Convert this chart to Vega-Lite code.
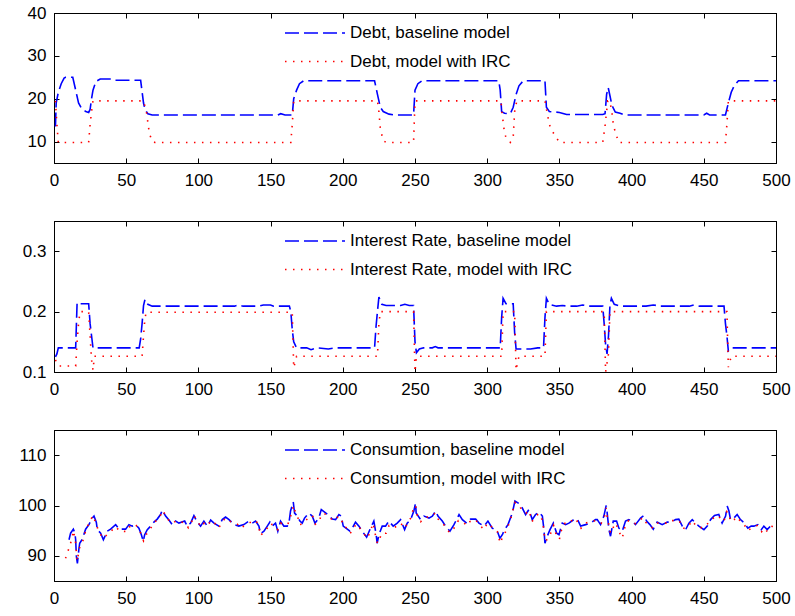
{
"$schema":"https://vega.github.io/schema/vega-lite/v6.json",
"padding":{"left":13,"top":3,"right":5,"bottom":5},
"background":"white",
"spacing":28,
"config":{
 "view":{"stroke":"black","strokeWidth":1},
 "axis":{"grid":false,"tickSize":-5,"domainColor":"black","tickColor":"black","labelColor":"black","labelFont":"Liberation Sans","labelFontSize":17,"title":null,"domainWidth":1,"tickWidth":1,"labelFlush":false},
 "axisX":{"labelPadding":14,"minExtent":28,"maxExtent":28},
 "axisY":{"labelPadding":13,"minExtent":40,"maxExtent":40},
 "legend":{"orient":"none","legendX":250,"legendY":9,"symbolType":"M-3,0H3","symbolSize":400,"symbolStrokeWidth":1.5,"labelFont":"Liberation Sans","labelFontSize":17,"labelColor":"black","labelLimit":500,"rowPadding":9.5,"title":null,"labelOffset":24}
},
"datasets":{
"debt":[
{"t":1,"v":13.5,"s":"baseline model"},{"t":1.5,"v":19,"s":"baseline model"},{"t":3,"v":21.5,"s":"baseline model"},{"t":5,"v":23.5,"s":"baseline model"},{"t":7,"v":24.8,"s":"baseline model"},{"t":8,"v":25,"s":"baseline model"},{"t":13,"v":25,"s":"baseline model"},{"t":15,"v":22,"s":"baseline model"},{"t":17,"v":19,"s":"baseline model"},{"t":19,"v":17.8,"s":"baseline model"},{"t":22,"v":17,"s":"baseline model"},{"t":24,"v":16.8,"s":"baseline model"},{"t":25,"v":17.5,"s":"baseline model"},{"t":26,"v":20,"s":"baseline model"},{"t":27,"v":22,"s":"baseline model"},{"t":29,"v":24,"s":"baseline model"},{"t":32,"v":24.6,"s":"baseline model"},{"t":40,"v":24.6,"s":"baseline model"},{"t":42,"v":24.3,"s":"baseline model"},{"t":60,"v":24.3,"s":"baseline model"},{"t":62,"v":19,"s":"baseline model"},{"t":63,"v":17.5,"s":"baseline model"},{"t":65,"v":16.5,"s":"baseline model"},{"t":68,"v":16.2,"s":"baseline model"},{"t":155,"v":16.2,"s":"baseline model"},{"t":157,"v":16.5,"s":"baseline model"},{"t":160,"v":16.2,"s":"baseline model"},{"t":165,"v":16.2,"s":"baseline model"},{"t":166,"v":20,"s":"baseline model"},{"t":168,"v":22,"s":"baseline model"},{"t":170,"v":23.5,"s":"baseline model"},{"t":173,"v":24.2,"s":"baseline model"},{"t":222,"v":24.2,"s":"baseline model"},{"t":224,"v":21,"s":"baseline model"},{"t":226,"v":18,"s":"baseline model"},{"t":228,"v":17,"s":"baseline model"},{"t":232,"v":16.4,"s":"baseline model"},{"t":236,"v":16.2,"s":"baseline model"},{"t":249,"v":16.2,"s":"baseline model"},{"t":250,"v":22,"s":"baseline model"},{"t":252,"v":23.5,"s":"baseline model"},{"t":255,"v":24.2,"s":"baseline model"},{"t":308,"v":24.2,"s":"baseline model"},{"t":309,"v":22,"s":"baseline model"},{"t":310,"v":17,"s":"baseline model"},{"t":312,"v":16.6,"s":"baseline model"},{"t":316,"v":16.5,"s":"baseline model"},{"t":318,"v":18,"s":"baseline model"},{"t":320,"v":21,"s":"baseline model"},{"t":322,"v":23,"s":"baseline model"},{"t":325,"v":24.2,"s":"baseline model"},{"t":340,"v":24.2,"s":"baseline model"},{"t":341,"v":18,"s":"baseline model"},{"t":343,"v":17,"s":"baseline model"},{"t":350,"v":16.8,"s":"baseline model"},{"t":355,"v":16.3,"s":"baseline model"},{"t":380,"v":16.3,"s":"baseline model"},{"t":381.6,"v":16.5,"s":"baseline model"},{"t":382.7,"v":21,"s":"baseline model"},{"t":383.8,"v":22.6,"s":"baseline model"},{"t":385,"v":20.7,"s":"baseline model"},{"t":386.4,"v":18.4,"s":"baseline model"},{"t":388.7,"v":16.9,"s":"baseline model"},{"t":392,"v":16.6,"s":"baseline model"},{"t":395,"v":16.2,"s":"baseline model"},{"t":450,"v":16.2,"s":"baseline model"},{"t":452,"v":16.6,"s":"baseline model"},{"t":454,"v":16.2,"s":"baseline model"},{"t":465,"v":16.2,"s":"baseline model"},{"t":467,"v":19,"s":"baseline model"},{"t":469,"v":21.5,"s":"baseline model"},{"t":471,"v":23,"s":"baseline model"},{"t":474,"v":24.2,"s":"baseline model"},{"t":500,"v":24.2,"s":"baseline model"},
{"t":1,"v":19.5,"s":"model with IRC"},{"t":2,"v":14,"s":"model with IRC"},{"t":3,"v":9.8,"s":"model with IRC"},{"t":24,"v":9.8,"s":"model with IRC"},{"t":25,"v":14,"s":"model with IRC"},{"t":26,"v":17,"s":"model with IRC"},{"t":27,"v":19.5,"s":"model with IRC"},{"t":62,"v":19.5,"s":"model with IRC"},{"t":64,"v":17,"s":"model with IRC"},{"t":66,"v":12,"s":"model with IRC"},{"t":68,"v":10,"s":"model with IRC"},{"t":70,"v":9.8,"s":"model with IRC"},{"t":164,"v":9.8,"s":"model with IRC"},{"t":165,"v":14,"s":"model with IRC"},{"t":166,"v":19.5,"s":"model with IRC"},{"t":224,"v":19.5,"s":"model with IRC"},{"t":225,"v":17,"s":"model with IRC"},{"t":226,"v":13,"s":"model with IRC"},{"t":228,"v":10.2,"s":"model with IRC"},{"t":230,"v":9.8,"s":"model with IRC"},{"t":249,"v":9.8,"s":"model with IRC"},{"t":250,"v":19.5,"s":"model with IRC"},{"t":309.6,"v":19.5,"s":"model with IRC"},{"t":310,"v":17.4,"s":"model with IRC"},{"t":312,"v":12,"s":"model with IRC"},{"t":313,"v":11,"s":"model with IRC"},{"t":316,"v":9.8,"s":"model with IRC"},{"t":318,"v":11,"s":"model with IRC"},{"t":319,"v":17,"s":"model with IRC"},{"t":320.5,"v":19.5,"s":"model with IRC"},{"t":340,"v":19.5,"s":"model with IRC"},{"t":341.6,"v":16.6,"s":"model with IRC"},{"t":343,"v":14,"s":"model with IRC"},{"t":345.5,"v":12.2,"s":"model with IRC"},{"t":350,"v":9.8,"s":"model with IRC"},{"t":380,"v":9.8,"s":"model with IRC"},{"t":381.6,"v":13.6,"s":"model with IRC"},{"t":383.5,"v":19.5,"s":"model with IRC"},{"t":385,"v":19.5,"s":"model with IRC"},{"t":386.4,"v":16.6,"s":"model with IRC"},{"t":387.5,"v":13.6,"s":"model with IRC"},{"t":391,"v":9.8,"s":"model with IRC"},{"t":465,"v":9.8,"s":"model with IRC"},{"t":466,"v":14,"s":"model with IRC"},{"t":467,"v":19.5,"s":"model with IRC"},{"t":500,"v":19.5,"s":"model with IRC"}
],
"rate":[
{"t":1,"v":0.125,"s":"baseline model"},{"t":2,"v":0.13,"s":"baseline model"},{"t":3,"v":0.14,"s":"baseline model"},{"t":15,"v":0.14,"s":"baseline model"},{"t":16,"v":0.215,"s":"baseline model"},{"t":18,"v":0.213,"s":"baseline model"},{"t":24,"v":0.213,"s":"baseline model"},{"t":25,"v":0.18,"s":"baseline model"},{"t":26,"v":0.16,"s":"baseline model"},{"t":27,"v":0.14,"s":"baseline model"},{"t":59,"v":0.14,"s":"baseline model"},{"t":60,"v":0.155,"s":"baseline model"},{"t":61,"v":0.18,"s":"baseline model"},{"t":62,"v":0.21,"s":"baseline model"},{"t":63,"v":0.22,"s":"baseline model"},{"t":65,"v":0.212,"s":"baseline model"},{"t":68,"v":0.209,"s":"baseline model"},{"t":125,"v":0.209,"s":"baseline model"},{"t":128,"v":0.211,"s":"baseline model"},{"t":131,"v":0.209,"s":"baseline model"},{"t":142,"v":0.209,"s":"baseline model"},{"t":145,"v":0.211,"s":"baseline model"},{"t":150,"v":0.211,"s":"baseline model"},{"t":152,"v":0.209,"s":"baseline model"},{"t":163,"v":0.209,"s":"baseline model"},{"t":164,"v":0.2,"s":"baseline model"},{"t":165,"v":0.17,"s":"baseline model"},{"t":166,"v":0.15,"s":"baseline model"},{"t":168,"v":0.14,"s":"baseline model"},{"t":175,"v":0.14,"s":"baseline model"},{"t":178,"v":0.137,"s":"baseline model"},{"t":182,"v":0.14,"s":"baseline model"},{"t":190,"v":0.138,"s":"baseline model"},{"t":195,"v":0.14,"s":"baseline model"},{"t":222,"v":0.14,"s":"baseline model"},{"t":223,"v":0.175,"s":"baseline model"},{"t":224,"v":0.2,"s":"baseline model"},{"t":225,"v":0.224,"s":"baseline model"},{"t":227,"v":0.212,"s":"baseline model"},{"t":230,"v":0.21,"s":"baseline model"},{"t":240,"v":0.21,"s":"baseline model"},{"t":243,"v":0.212,"s":"baseline model"},{"t":246,"v":0.21,"s":"baseline model"},{"t":249,"v":0.21,"s":"baseline model"},{"t":250,"v":0.15,"s":"baseline model"},{"t":251,"v":0.132,"s":"baseline model"},{"t":253,"v":0.138,"s":"baseline model"},{"t":256,"v":0.14,"s":"baseline model"},{"t":262,"v":0.14,"s":"baseline model"},{"t":264,"v":0.142,"s":"baseline model"},{"t":266,"v":0.14,"s":"baseline model"},{"t":309,"v":0.14,"s":"baseline model"},{"t":310,"v":0.19,"s":"baseline model"},{"t":311,"v":0.222,"s":"baseline model"},{"t":313,"v":0.213,"s":"baseline model"},{"t":318,"v":0.213,"s":"baseline model"},{"t":319,"v":0.165,"s":"baseline model"},{"t":320,"v":0.138,"s":"baseline model"},{"t":330,"v":0.138,"s":"baseline model"},{"t":335,"v":0.14,"s":"baseline model"},{"t":339,"v":0.14,"s":"baseline model"},{"t":340,"v":0.19,"s":"baseline model"},{"t":341,"v":0.222,"s":"baseline model"},{"t":343,"v":0.212,"s":"baseline model"},{"t":348,"v":0.209,"s":"baseline model"},{"t":352,"v":0.21,"s":"baseline model"},{"t":356,"v":0.209,"s":"baseline model"},{"t":362,"v":0.209,"s":"baseline model"},{"t":366,"v":0.211,"s":"baseline model"},{"t":370,"v":0.209,"s":"baseline model"},{"t":380,"v":0.209,"s":"baseline model"},{"t":381,"v":0.18,"s":"baseline model"},{"t":382,"v":0.145,"s":"baseline model"},{"t":383,"v":0.13,"s":"baseline model"},{"t":384,"v":0.16,"s":"baseline model"},{"t":385,"v":0.21,"s":"baseline model"},{"t":386,"v":0.222,"s":"baseline model"},{"t":388,"v":0.212,"s":"baseline model"},{"t":392,"v":0.209,"s":"baseline model"},{"t":410,"v":0.209,"s":"baseline model"},{"t":415,"v":0.211,"s":"baseline model"},{"t":420,"v":0.209,"s":"baseline model"},{"t":440,"v":0.209,"s":"baseline model"},{"t":443,"v":0.211,"s":"baseline model"},{"t":447,"v":0.209,"s":"baseline model"},{"t":464,"v":0.209,"s":"baseline model"},{"t":465,"v":0.18,"s":"baseline model"},{"t":466,"v":0.16,"s":"baseline model"},{"t":467,"v":0.135,"s":"baseline model"},{"t":469,"v":0.14,"s":"baseline model"},{"t":500,"v":0.14,"s":"baseline model"},
{"t":1,"v":0.12,"s":"model with IRC"},{"t":3,"v":0.11,"s":"model with IRC"},{"t":15,"v":0.11,"s":"model with IRC"},{"t":16,"v":0.15,"s":"model with IRC"},{"t":17,"v":0.18,"s":"model with IRC"},{"t":18,"v":0.2,"s":"model with IRC"},{"t":24,"v":0.2,"s":"model with IRC"},{"t":25,"v":0.16,"s":"model with IRC"},{"t":26,"v":0.12,"s":"model with IRC"},{"t":27,"v":0.103,"s":"model with IRC"},{"t":28,"v":0.126,"s":"model with IRC"},{"t":61,"v":0.126,"s":"model with IRC"},{"t":62,"v":0.16,"s":"model with IRC"},{"t":63,"v":0.19,"s":"model with IRC"},{"t":64,"v":0.199,"s":"model with IRC"},{"t":165,"v":0.199,"s":"model with IRC"},{"t":166,"v":0.107,"s":"model with IRC"},{"t":168,"v":0.126,"s":"model with IRC"},{"t":224,"v":0.126,"s":"model with IRC"},{"t":225,"v":0.18,"s":"model with IRC"},{"t":226,"v":0.2,"s":"model with IRC"},{"t":249,"v":0.2,"s":"model with IRC"},{"t":250,"v":0.1,"s":"model with IRC"},{"t":251,"v":0.126,"s":"model with IRC"},{"t":310,"v":0.126,"s":"model with IRC"},{"t":311,"v":0.2,"s":"model with IRC"},{"t":319,"v":0.2,"s":"model with IRC"},{"t":320,"v":0.103,"s":"model with IRC"},{"t":322,"v":0.126,"s":"model with IRC"},{"t":340,"v":0.126,"s":"model with IRC"},{"t":341,"v":0.2,"s":"model with IRC"},{"t":381,"v":0.2,"s":"model with IRC"},{"t":382,"v":0.1,"s":"model with IRC"},{"t":384,"v":0.13,"s":"model with IRC"},{"t":385,"v":0.2,"s":"model with IRC"},{"t":466,"v":0.2,"s":"model with IRC"},{"t":467,"v":0.108,"s":"model with IRC"},{"t":469,"v":0.126,"s":"model with IRC"},{"t":500,"v":0.126,"s":"model with IRC"}
],
"cons":[
{"t":10.4,"v":93.2,"s":"baseline model"},{"t":11.5,"v":94.5,"s":"baseline model"},{"t":13.4,"v":95.3,"s":"baseline model"},{"t":14.5,"v":94.5,"s":"baseline model"},{"t":15,"v":93.2,"s":"baseline model"},{"t":15.5,"v":89.9,"s":"baseline model"},{"t":16.2,"v":88.5,"s":"baseline model"},{"t":17.3,"v":91.5,"s":"baseline model"},{"t":17.8,"v":92.5,"s":"baseline model"},{"t":19.6,"v":93.3,"s":"baseline model"},{"t":21.9,"v":95.3,"s":"baseline model"},{"t":24.2,"v":96.2,"s":"baseline model"},{"t":26.5,"v":97.5,"s":"baseline model"},{"t":27.7,"v":97.9,"s":"baseline model"},{"t":29.3,"v":96.7,"s":"baseline model"},{"t":30,"v":95.2,"s":"baseline model"},{"t":32.3,"v":94.5,"s":"baseline model"},{"t":34.2,"v":93.2,"s":"baseline model"},{"t":35.8,"v":94.2,"s":"baseline model"},{"t":36.9,"v":94.9,"s":"baseline model"},{"t":39.2,"v":95.3,"s":"baseline model"},{"t":42.7,"v":96.2,"s":"baseline model"},{"t":45,"v":95.3,"s":"baseline model"},{"t":49.6,"v":95.3,"s":"baseline model"},{"t":51.9,"v":96.2,"s":"baseline model"},{"t":54.2,"v":95.9,"s":"baseline model"},{"t":56.5,"v":96.2,"s":"baseline model"},{"t":58.8,"v":95.5,"s":"baseline model"},{"t":60.5,"v":94.2,"s":"baseline model"},{"t":61.8,"v":92.9,"s":"baseline model"},{"t":62.8,"v":94.2,"s":"baseline model"},{"t":64.6,"v":95.2,"s":"baseline model"},{"t":66.9,"v":95.9,"s":"baseline model"},{"t":69.2,"v":96.7,"s":"baseline model"},{"t":71.5,"v":97.3,"s":"baseline model"},{"t":73.8,"v":98.2,"s":"baseline model"},{"t":75,"v":99.1,"s":"baseline model"},{"t":77.3,"v":97.9,"s":"baseline model"},{"t":79.6,"v":97.1,"s":"baseline model"},{"t":81.9,"v":96.2,"s":"baseline model"},{"t":84.2,"v":96.9,"s":"baseline model"},{"t":86.5,"v":96.5,"s":"baseline model"},{"t":90.5,"v":96.9,"s":"baseline model"},{"t":92.3,"v":95.9,"s":"baseline model"},{"t":94.6,"v":96.5,"s":"baseline model"},{"t":96.9,"v":98.0,"s":"baseline model"},{"t":99.2,"v":96.7,"s":"baseline model"},{"t":101.5,"v":95.9,"s":"baseline model"},{"t":103.8,"v":96.9,"s":"baseline model"},{"t":106.2,"v":95.9,"s":"baseline model"},{"t":108.5,"v":97.1,"s":"baseline model"},{"t":110.8,"v":96.5,"s":"baseline model"},{"t":114.2,"v":95.9,"s":"baseline model"},{"t":116.5,"v":97.2,"s":"baseline model"},{"t":118.8,"v":97.7,"s":"baseline model"},{"t":121.2,"v":97.2,"s":"baseline model"},{"t":124.6,"v":96.2,"s":"baseline model"},{"t":128,"v":95.9,"s":"baseline model"},{"t":131.5,"v":96.2,"s":"baseline model"},{"t":135,"v":96.9,"s":"baseline model"},{"t":137.3,"v":96.5,"s":"baseline model"},{"t":139.6,"v":96.9,"s":"baseline model"},{"t":141.9,"v":95.9,"s":"baseline model"},{"t":143,"v":94.4,"s":"baseline model"},{"t":145.4,"v":94.9,"s":"baseline model"},{"t":147.7,"v":95.9,"s":"baseline model"},{"t":149.5,"v":96.7,"s":"baseline model"},{"t":151.1,"v":95.9,"s":"baseline model"},{"t":153.4,"v":96.5,"s":"baseline model"},{"t":155,"v":94.9,"s":"baseline model"},{"t":156.9,"v":96.9,"s":"baseline model"},{"t":159.2,"v":95.9,"s":"baseline model"},{"t":161.5,"v":95.9,"s":"baseline model"},{"t":162.7,"v":96.5,"s":"baseline model"},{"t":163.8,"v":98.9,"s":"baseline model"},{"t":165.7,"v":100.7,"s":"baseline model"},{"t":166.6,"v":98.5,"s":"baseline model"},{"t":168.5,"v":97.9,"s":"baseline model"},{"t":170.3,"v":96.9,"s":"baseline model"},{"t":171.9,"v":96.5,"s":"baseline model"},{"t":173.5,"v":97.5,"s":"baseline model"},{"t":176.5,"v":98.5,"s":"baseline model"},{"t":178.8,"v":97.9,"s":"baseline model"},{"t":180.7,"v":96.5,"s":"baseline model"},{"t":183.4,"v":97.5,"s":"baseline model"},{"t":185.1,"v":99.2,"s":"baseline model"},{"t":187.4,"v":98.7,"s":"baseline model"},{"t":189.7,"v":98.2,"s":"baseline model"},{"t":192.7,"v":97.3,"s":"baseline model"},{"t":195,"v":97.2,"s":"baseline model"},{"t":197.3,"v":98.2,"s":"baseline model"},{"t":198.9,"v":97.9,"s":"baseline model"},{"t":200.3,"v":95.9,"s":"baseline model"},{"t":203.1,"v":95.3,"s":"baseline model"},{"t":204.9,"v":94.9,"s":"baseline model"},{"t":206.5,"v":95.5,"s":"baseline model"},{"t":208.8,"v":96.7,"s":"baseline model"},{"t":211.2,"v":95.9,"s":"baseline model"},{"t":213.4,"v":94.9,"s":"baseline model"},{"t":216.5,"v":93.7,"s":"baseline model"},{"t":219.2,"v":95.5,"s":"baseline model"},{"t":221.5,"v":96.9,"s":"baseline model"},{"t":223.1,"v":94.2,"s":"baseline model"},{"t":223.8,"v":92.5,"s":"baseline model"},{"t":225,"v":94.2,"s":"baseline model"},{"t":227.3,"v":95.9,"s":"baseline model"},{"t":229.6,"v":95.9,"s":"baseline model"},{"t":231.9,"v":96.9,"s":"baseline model"},{"t":234.9,"v":95.9,"s":"baseline model"},{"t":237.7,"v":96.5,"s":"baseline model"},{"t":240,"v":97.2,"s":"baseline model"},{"t":242.8,"v":95.2,"s":"baseline model"},{"t":244.6,"v":96.5,"s":"baseline model"},{"t":246.9,"v":97.1,"s":"baseline model"},{"t":249.2,"v":98.9,"s":"baseline model"},{"t":250.4,"v":100.5,"s":"baseline model"},{"t":250.8,"v":98.5,"s":"baseline model"},{"t":253.9,"v":97.2,"s":"baseline model"},{"t":256.2,"v":97.9,"s":"baseline model"},{"t":259.7,"v":97.5,"s":"baseline model"},{"t":262,"v":97.9,"s":"baseline model"},{"t":264.3,"v":98.9,"s":"baseline model"},{"t":265.9,"v":97.9,"s":"baseline model"},{"t":268.9,"v":96.9,"s":"baseline model"},{"t":271.2,"v":95.9,"s":"baseline model"},{"t":274.2,"v":94.9,"s":"baseline model"},{"t":277,"v":96.2,"s":"baseline model"},{"t":280.5,"v":98.2,"s":"baseline model"},{"t":282.8,"v":97.2,"s":"baseline model"},{"t":285.8,"v":96.5,"s":"baseline model"},{"t":288.5,"v":97.3,"s":"baseline model"},{"t":292,"v":97.3,"s":"baseline model"},{"t":294.3,"v":96.5,"s":"baseline model"},{"t":297.8,"v":95.9,"s":"baseline model"},{"t":300.5,"v":96.9,"s":"baseline model"},{"t":303.5,"v":95.5,"s":"baseline model"},{"t":307,"v":94.9,"s":"baseline model"},{"t":308.8,"v":93.5,"s":"baseline model"},{"t":310.5,"v":94.2,"s":"baseline model"},{"t":312,"v":95.2,"s":"baseline model"},{"t":314.4,"v":96.2,"s":"baseline model"},{"t":317.4,"v":98.5,"s":"baseline model"},{"t":319.2,"v":100.9,"s":"baseline model"},{"t":322,"v":100.4,"s":"baseline model"},{"t":324.3,"v":99.5,"s":"baseline model"},{"t":326.6,"v":98.2,"s":"baseline model"},{"t":328.9,"v":99.2,"s":"baseline model"},{"t":331.2,"v":97.2,"s":"baseline model"},{"t":333.5,"v":98.2,"s":"baseline model"},{"t":335.8,"v":98.7,"s":"baseline model"},{"t":338.2,"v":97.9,"s":"baseline model"},{"t":339.3,"v":95.2,"s":"baseline model"},{"t":340,"v":92.5,"s":"baseline model"},{"t":341.6,"v":93.9,"s":"baseline model"},{"t":343.5,"v":95.2,"s":"baseline model"},{"t":345.8,"v":96.5,"s":"baseline model"},{"t":348.1,"v":94.5,"s":"baseline model"},{"t":349.7,"v":94.2,"s":"baseline model"},{"t":352,"v":96.5,"s":"baseline model"},{"t":354.3,"v":96.2,"s":"baseline model"},{"t":356.6,"v":96.5,"s":"baseline model"},{"t":360,"v":97.2,"s":"baseline model"},{"t":362.4,"v":97.3,"s":"baseline model"},{"t":364.7,"v":95.9,"s":"baseline model"},{"t":368.2,"v":96.2,"s":"baseline model"},{"t":371.6,"v":96.5,"s":"baseline model"},{"t":375,"v":97.2,"s":"baseline model"},{"t":376.2,"v":97.2,"s":"baseline model"},{"t":378.5,"v":96.2,"s":"baseline model"},{"t":380.8,"v":97.9,"s":"baseline model"},{"t":382.4,"v":100,"s":"baseline model"},{"t":383.1,"v":98.5,"s":"baseline model"},{"t":384.3,"v":95.2,"s":"baseline model"},{"t":385.4,"v":93.9,"s":"baseline model"},{"t":387.3,"v":96.9,"s":"baseline model"},{"t":389.6,"v":96.9,"s":"baseline model"},{"t":391.2,"v":95.5,"s":"baseline model"},{"t":393.5,"v":94.9,"s":"baseline model"},{"t":395.8,"v":96.9,"s":"baseline model"},{"t":398.1,"v":97.2,"s":"baseline model"},{"t":400.4,"v":96.9,"s":"baseline model"},{"t":402.7,"v":96.2,"s":"baseline model"},{"t":406.2,"v":97.5,"s":"baseline model"},{"t":408.5,"v":98,"s":"baseline model"},{"t":410.4,"v":96.9,"s":"baseline model"},{"t":412.7,"v":96.2,"s":"baseline model"},{"t":415,"v":95.3,"s":"baseline model"},{"t":417.7,"v":96.7,"s":"baseline model"},{"t":421.2,"v":96.2,"s":"baseline model"},{"t":424.7,"v":96.7,"s":"baseline model"},{"t":427.4,"v":96.7,"s":"baseline model"},{"t":430.4,"v":97.2,"s":"baseline model"},{"t":432.7,"v":97.3,"s":"baseline model"},{"t":435.1,"v":95.9,"s":"baseline model"},{"t":437.4,"v":95.2,"s":"baseline model"},{"t":439.7,"v":96.5,"s":"baseline model"},{"t":442,"v":97.2,"s":"baseline model"},{"t":444.3,"v":96.5,"s":"baseline model"},{"t":446.6,"v":95.9,"s":"baseline model"},{"t":450.1,"v":95.2,"s":"baseline model"},{"t":452.4,"v":95.9,"s":"baseline model"},{"t":454.7,"v":97.2,"s":"baseline model"},{"t":457.4,"v":98,"s":"baseline model"},{"t":460.4,"v":98.2,"s":"baseline model"},{"t":462.7,"v":96.5,"s":"baseline model"},{"t":465.1,"v":97.9,"s":"baseline model"},{"t":466.2,"v":99.9,"s":"baseline model"},{"t":467.4,"v":98.9,"s":"baseline model"},{"t":468.5,"v":97.2,"s":"baseline model"},{"t":470.8,"v":97.5,"s":"baseline model"},{"t":473.1,"v":98.2,"s":"baseline model"},{"t":475.4,"v":97.2,"s":"baseline model"},{"t":478.2,"v":96.5,"s":"baseline model"},{"t":480.5,"v":95.5,"s":"baseline model"},{"t":482.8,"v":95.9,"s":"baseline model"},{"t":484.7,"v":95.9,"s":"baseline model"},{"t":487.4,"v":96.2,"s":"baseline model"},{"t":489.8,"v":95.2,"s":"baseline model"},{"t":491.6,"v":95.9,"s":"baseline model"},{"t":493.9,"v":95.2,"s":"baseline model"},{"t":496.2,"v":95.9,"s":"baseline model"},{"t":498.5,"v":96.4,"s":"baseline model"},
{"t":8,"v":89.5,"s":"model with IRC"},{"t":10,"v":91.2,"s":"model with IRC"},{"t":12,"v":93,"s":"model with IRC"},{"t":13.5,"v":95,"s":"model with IRC"},{"t":15,"v":92.5,"s":"model with IRC"},{"t":16,"v":89,"s":"model with IRC"},{"t":17,"v":90.5,"s":"model with IRC"},{"t":18,"v":92,"s":"model with IRC"},{"t":20,"v":93,"s":"model with IRC"},{"t":22,"v":95,"s":"model with IRC"},{"t":24,"v":96.4,"s":"model with IRC"},{"t":27,"v":98,"s":"model with IRC"},{"t":29,"v":96.5,"s":"model with IRC"},{"t":31,"v":94.8,"s":"model with IRC"},{"t":34,"v":93.5,"s":"model with IRC"},{"t":36,"v":94,"s":"model with IRC"},{"t":39,"v":94.8,"s":"model with IRC"},{"t":43,"v":95.8,"s":"model with IRC"},{"t":45,"v":95,"s":"model with IRC"},{"t":50,"v":94.8,"s":"model with IRC"},{"t":52,"v":95.8,"s":"model with IRC"},{"t":55,"v":95.5,"s":"model with IRC"},{"t":57,"v":96,"s":"model with IRC"},{"t":59,"v":95.2,"s":"model with IRC"},{"t":61,"v":93.8,"s":"model with IRC"},{"t":62,"v":93,"s":"model with IRC"},{"t":64,"v":94.3,"s":"model with IRC"},{"t":66,"v":95,"s":"model with IRC"},{"t":68,"v":96,"s":"model with IRC"},{"t":70,"v":96.8,"s":"model with IRC"},{"t":73,"v":97.5,"s":"model with IRC"},{"t":75,"v":99,"s":"model with IRC"},{"t":77,"v":98.2,"s":"model with IRC"},{"t":80,"v":96.8,"s":"model with IRC"},{"t":82,"v":96.5,"s":"model with IRC"},{"t":85,"v":97,"s":"model with IRC"},{"t":87,"v":96.8,"s":"model with IRC"},{"t":91,"v":96.5,"s":"model with IRC"},{"t":93,"v":95.6,"s":"model with IRC"},{"t":95,"v":96.5,"s":"model with IRC"},{"t":97,"v":98,"s":"model with IRC"},{"t":99,"v":97,"s":"model with IRC"},{"t":102,"v":95.7,"s":"model with IRC"},{"t":104,"v":96.5,"s":"model with IRC"},{"t":106,"v":96,"s":"model with IRC"},{"t":109,"v":97,"s":"model with IRC"},{"t":111,"v":96.6,"s":"model with IRC"},{"t":114,"v":95.5,"s":"model with IRC"},{"t":117,"v":97,"s":"model with IRC"},{"t":119,"v":97.5,"s":"model with IRC"},{"t":121,"v":97,"s":"model with IRC"},{"t":125,"v":96.4,"s":"model with IRC"},{"t":127,"v":96.3,"s":"model with IRC"},{"t":129,"v":95.5,"s":"model with IRC"},{"t":132,"v":96,"s":"model with IRC"},{"t":135,"v":96.5,"s":"model with IRC"},{"t":137,"v":96.8,"s":"model with IRC"},{"t":140,"v":97,"s":"model with IRC"},{"t":142,"v":95.5,"s":"model with IRC"},{"t":143,"v":94,"s":"model with IRC"},{"t":146,"v":95,"s":"model with IRC"},{"t":148,"v":95.6,"s":"model with IRC"},{"t":150,"v":96.5,"s":"model with IRC"},{"t":151,"v":96.2,"s":"model with IRC"},{"t":153,"v":96,"s":"model with IRC"},{"t":155,"v":95.2,"s":"model with IRC"},{"t":157,"v":96.5,"s":"model with IRC"},{"t":159,"v":96.2,"s":"model with IRC"},{"t":162,"v":96.3,"s":"model with IRC"},{"t":164,"v":98,"s":"model with IRC"},{"t":166,"v":100,"s":"model with IRC"},{"t":167,"v":98.8,"s":"model with IRC"},{"t":169,"v":97.5,"s":"model with IRC"},{"t":170,"v":96.2,"s":"model with IRC"},{"t":172,"v":96.3,"s":"model with IRC"},{"t":174,"v":97,"s":"model with IRC"},{"t":177,"v":97.6,"s":"model with IRC"},{"t":179,"v":98,"s":"model with IRC"},{"t":181,"v":96.3,"s":"model with IRC"},{"t":184,"v":97,"s":"model with IRC"},{"t":185,"v":98.2,"s":"model with IRC"},{"t":187,"v":98.4,"s":"model with IRC"},{"t":190,"v":98,"s":"model with IRC"},{"t":193,"v":97,"s":"model with IRC"},{"t":195,"v":97.4,"s":"model with IRC"},{"t":197,"v":97.8,"s":"model with IRC"},{"t":199,"v":97.5,"s":"model with IRC"},{"t":200,"v":96,"s":"model with IRC"},{"t":203,"v":95.5,"s":"model with IRC"},{"t":205,"v":94.5,"s":"model with IRC"},{"t":207,"v":95,"s":"model with IRC"},{"t":209,"v":96.3,"s":"model with IRC"},{"t":211,"v":95.8,"s":"model with IRC"},{"t":213,"v":95,"s":"model with IRC"},{"t":217,"v":93.5,"s":"model with IRC"},{"t":219,"v":94.8,"s":"model with IRC"},{"t":221,"v":96.5,"s":"model with IRC"},{"t":223,"v":93.5,"s":"model with IRC"},{"t":224,"v":92.5,"s":"model with IRC"},{"t":225,"v":93,"s":"model with IRC"},{"t":227,"v":94.5,"s":"model with IRC"},{"t":230,"v":94.5,"s":"model with IRC"},{"t":232,"v":96,"s":"model with IRC"},{"t":235,"v":95.5,"s":"model with IRC"},{"t":238,"v":96,"s":"model with IRC"},{"t":240,"v":96.5,"s":"model with IRC"},{"t":243,"v":95.5,"s":"model with IRC"},{"t":245,"v":96.6,"s":"model with IRC"},{"t":247,"v":97.5,"s":"model with IRC"},{"t":249,"v":99.5,"s":"model with IRC"},{"t":250.5,"v":100,"s":"model with IRC"},{"t":251,"v":98.4,"s":"model with IRC"},{"t":254,"v":96.8,"s":"model with IRC"},{"t":256,"v":97.5,"s":"model with IRC"},{"t":260,"v":97.8,"s":"model with IRC"},{"t":262,"v":98,"s":"model with IRC"},{"t":264,"v":98.5,"s":"model with IRC"},{"t":266,"v":97.3,"s":"model with IRC"},{"t":269,"v":96.5,"s":"model with IRC"},{"t":271,"v":95.8,"s":"model with IRC"},{"t":274,"v":94.6,"s":"model with IRC"},{"t":277,"v":95.5,"s":"model with IRC"},{"t":280,"v":97,"s":"model with IRC"},{"t":283,"v":96.8,"s":"model with IRC"},{"t":286,"v":96,"s":"model with IRC"},{"t":288,"v":96.8,"s":"model with IRC"},{"t":292,"v":97.2,"s":"model with IRC"},{"t":294,"v":96.3,"s":"model with IRC"},{"t":298,"v":95.2,"s":"model with IRC"},{"t":300,"v":96.5,"s":"model with IRC"},{"t":303,"v":95.8,"s":"model with IRC"},{"t":307,"v":94.8,"s":"model with IRC"},{"t":309,"v":92.5,"s":"model with IRC"},{"t":311,"v":94,"s":"model with IRC"},{"t":312,"v":94.4,"s":"model with IRC"},{"t":314,"v":95.5,"s":"model with IRC"},{"t":317,"v":98,"s":"model with IRC"},{"t":319,"v":100.6,"s":"model with IRC"},{"t":322,"v":100.2,"s":"model with IRC"},{"t":324,"v":99,"s":"model with IRC"},{"t":327,"v":98.5,"s":"model with IRC"},{"t":329,"v":99,"s":"model with IRC"},{"t":331,"v":96.8,"s":"model with IRC"},{"t":334,"v":98,"s":"model with IRC"},{"t":336,"v":98.4,"s":"model with IRC"},{"t":338,"v":97.2,"s":"model with IRC"},{"t":339,"v":95.6,"s":"model with IRC"},{"t":340,"v":93,"s":"model with IRC"},{"t":342,"v":93.3,"s":"model with IRC"},{"t":344,"v":94.5,"s":"model with IRC"},{"t":346,"v":96,"s":"model with IRC"},{"t":348,"v":94,"s":"model with IRC"},{"t":350,"v":93.3,"s":"model with IRC"},{"t":352,"v":95.8,"s":"model with IRC"},{"t":354,"v":96.5,"s":"model with IRC"},{"t":357,"v":96.5,"s":"model with IRC"},{"t":360,"v":97.5,"s":"model with IRC"},{"t":362,"v":97,"s":"model with IRC"},{"t":365,"v":95.5,"s":"model with IRC"},{"t":368,"v":96.5,"s":"model with IRC"},{"t":372,"v":96.8,"s":"model with IRC"},{"t":375,"v":97,"s":"model with IRC"},{"t":377,"v":97,"s":"model with IRC"},{"t":379,"v":96.5,"s":"model with IRC"},{"t":381,"v":97.5,"s":"model with IRC"},{"t":382.4,"v":99.5,"s":"model with IRC"},{"t":383,"v":98,"s":"model with IRC"},{"t":384.3,"v":96,"s":"model with IRC"},{"t":385.4,"v":94.5,"s":"model with IRC"},{"t":387,"v":95.5,"s":"model with IRC"},{"t":389,"v":96.5,"s":"model with IRC"},{"t":391,"v":95,"s":"model with IRC"},{"t":393.5,"v":93.5,"s":"model with IRC"},{"t":396,"v":96.5,"s":"model with IRC"},{"t":398,"v":97,"s":"model with IRC"},{"t":400,"v":96.5,"s":"model with IRC"},{"t":403,"v":96.4,"s":"model with IRC"},{"t":406,"v":97.2,"s":"model with IRC"},{"t":408,"v":97.6,"s":"model with IRC"},{"t":410,"v":96.6,"s":"model with IRC"},{"t":413,"v":95.8,"s":"model with IRC"},{"t":415,"v":95.5,"s":"model with IRC"},{"t":418,"v":96.5,"s":"model with IRC"},{"t":421,"v":96.5,"s":"model with IRC"},{"t":425,"v":96.5,"s":"model with IRC"},{"t":427,"v":97,"s":"model with IRC"},{"t":430,"v":97,"s":"model with IRC"},{"t":433,"v":97,"s":"model with IRC"},{"t":435,"v":95.6,"s":"model with IRC"},{"t":437,"v":95.4,"s":"model with IRC"},{"t":440,"v":96.2,"s":"model with IRC"},{"t":442,"v":97,"s":"model with IRC"},{"t":444,"v":96.2,"s":"model with IRC"},{"t":447,"v":95.6,"s":"model with IRC"},{"t":450,"v":95.6,"s":"model with IRC"},{"t":452,"v":96.2,"s":"model with IRC"},{"t":455,"v":97,"s":"model with IRC"},{"t":457,"v":97.6,"s":"model with IRC"},{"t":460,"v":98,"s":"model with IRC"},{"t":463,"v":96.8,"s":"model with IRC"},{"t":465,"v":97.5,"s":"model with IRC"},{"t":466,"v":98.8,"s":"model with IRC"},{"t":467.4,"v":98.4,"s":"model with IRC"},{"t":468.5,"v":96.8,"s":"model with IRC"},{"t":471,"v":97.2,"s":"model with IRC"},{"t":473,"v":97.8,"s":"model with IRC"},{"t":475,"v":97,"s":"model with IRC"},{"t":478,"v":96.2,"s":"model with IRC"},{"t":480.5,"v":95,"s":"model with IRC"},{"t":483,"v":95.5,"s":"model with IRC"},{"t":485,"v":95.7,"s":"model with IRC"},{"t":487,"v":96,"s":"model with IRC"},{"t":490,"v":94.8,"s":"model with IRC"},{"t":492,"v":95.5,"s":"model with IRC"},{"t":494,"v":94.8,"s":"model with IRC"},{"t":496,"v":95.5,"s":"model with IRC"},{"t":498.5,"v":96.2,"s":"model with IRC"}
]
},
"vconcat":[
{
 "width":722,"height":150,
 "data":{"name":"debt"},
 "resolve":{"axis":{"x":"independent","y":"independent"}},
 "layer":[
  {"mark":{"type":"line","strokeWidth":1.6,"clip":true},
   "encoding":{
    "x":{"field":"t","type":"quantitative","scale":{"domain":[0,500],"nice":false},"axis":{"values":[0,50,100,150,200,250,300,350,400,450,500]}},
    "y":{"field":"v","type":"quantitative","scale":{"domain":[5,40],"nice":false,"zero":false},"axis":{"values":[10,20,30,40]}},
    "color":{"field":"s","type":"nominal","scale":{"domain":["baseline model","model with IRC"],"range":["#0000ff","#ff0000"]},"legend":{"labelExpr":"'Debt, ' + datum.label"}},
    "strokeDash":{"field":"s","type":"nominal","scale":{"domain":["baseline model","model with IRC"],"range":[[14,5],[1.5,6.5]]},"legend":{"labelExpr":"'Debt, ' + datum.label"}}
   }},
  {"mark":{"type":"line","opacity":0},
   "encoding":{
    "x":{"field":"t","type":"quantitative","axis":{"orient":"top","labels":false,"values":[0,50,100,150,200,250,300,350,400,450,500],"minExtent":0,"maxExtent":0}},
    "y":{"field":"v","type":"quantitative","axis":{"orient":"right","labels":false,"values":[10,20,30,40],"minExtent":0,"maxExtent":0}}
   }}
 ]
},
{
 "width":722,"height":151,
 "data":{"name":"rate"},
 "resolve":{"axis":{"x":"independent","y":"independent"}},
 "layer":[
  {"mark":{"type":"line","strokeWidth":1.6,"clip":true},
   "encoding":{
    "x":{"field":"t","type":"quantitative","scale":{"domain":[0,500],"nice":false},"axis":{"values":[0,50,100,150,200,250,300,350,400,450,500]}},
    "y":{"field":"v","type":"quantitative","scale":{"domain":[0.1,0.35],"nice":false,"zero":false},"axis":{"values":[0.1,0.2,0.3],"format":".1f"}},
    "color":{"field":"s","type":"nominal","scale":{"domain":["baseline model","model with IRC"],"range":["#0000ff","#ff0000"]},"legend":{"labelExpr":"'Interest Rate, ' + datum.label"}},
    "strokeDash":{"field":"s","type":"nominal","scale":{"domain":["baseline model","model with IRC"],"range":[[14,5],[1.5,6.5]]},"legend":{"labelExpr":"'Interest Rate, ' + datum.label"}}
   }},
  {"mark":{"type":"line","opacity":0},
   "encoding":{
    "x":{"field":"t","type":"quantitative","axis":{"orient":"top","labels":false,"values":[0,50,100,150,200,250,300,350,400,450,500],"minExtent":0,"maxExtent":0}},
    "y":{"field":"v","type":"quantitative","axis":{"orient":"right","labels":false,"values":[0.1,0.2,0.3],"minExtent":0,"maxExtent":0}}
   }}
 ]
},
{
 "width":722,"height":151,
 "data":{"name":"cons"},
 "resolve":{"axis":{"x":"independent","y":"independent"}},
 "layer":[
  {"mark":{"type":"line","strokeWidth":1.6,"clip":true},
   "encoding":{
    "x":{"field":"t","type":"quantitative","scale":{"domain":[0,500],"nice":false},"axis":{"values":[0,50,100,150,200,250,300,350,400,450,500]}},
    "y":{"field":"v","type":"quantitative","scale":{"domain":[85,115],"nice":false,"zero":false},"axis":{"values":[90,100,110]}},
    "color":{"field":"s","type":"nominal","scale":{"domain":["baseline model","model with IRC"],"range":["#0000ff","#ff0000"]},"legend":{"labelExpr":"'Consumtion, ' + datum.label"}},
    "strokeDash":{"field":"s","type":"nominal","scale":{"domain":["baseline model","model with IRC"],"range":[[14,5],[1.5,6.5]]},"legend":{"labelExpr":"'Consumtion, ' + datum.label"}}
   }},
  {"mark":{"type":"line","opacity":0},
   "encoding":{
    "x":{"field":"t","type":"quantitative","axis":{"orient":"top","labels":false,"values":[0,50,100,150,200,250,300,350,400,450,500],"minExtent":0,"maxExtent":0}},
    "y":{"field":"v","type":"quantitative","axis":{"orient":"right","labels":false,"values":[90,100,110],"minExtent":0,"maxExtent":0}}
   }}
 ]
}
],
"resolve":{"scale":{"color":"independent","strokeDash":"independent"},"legend":{"color":"independent","strokeDash":"independent"}}
}
